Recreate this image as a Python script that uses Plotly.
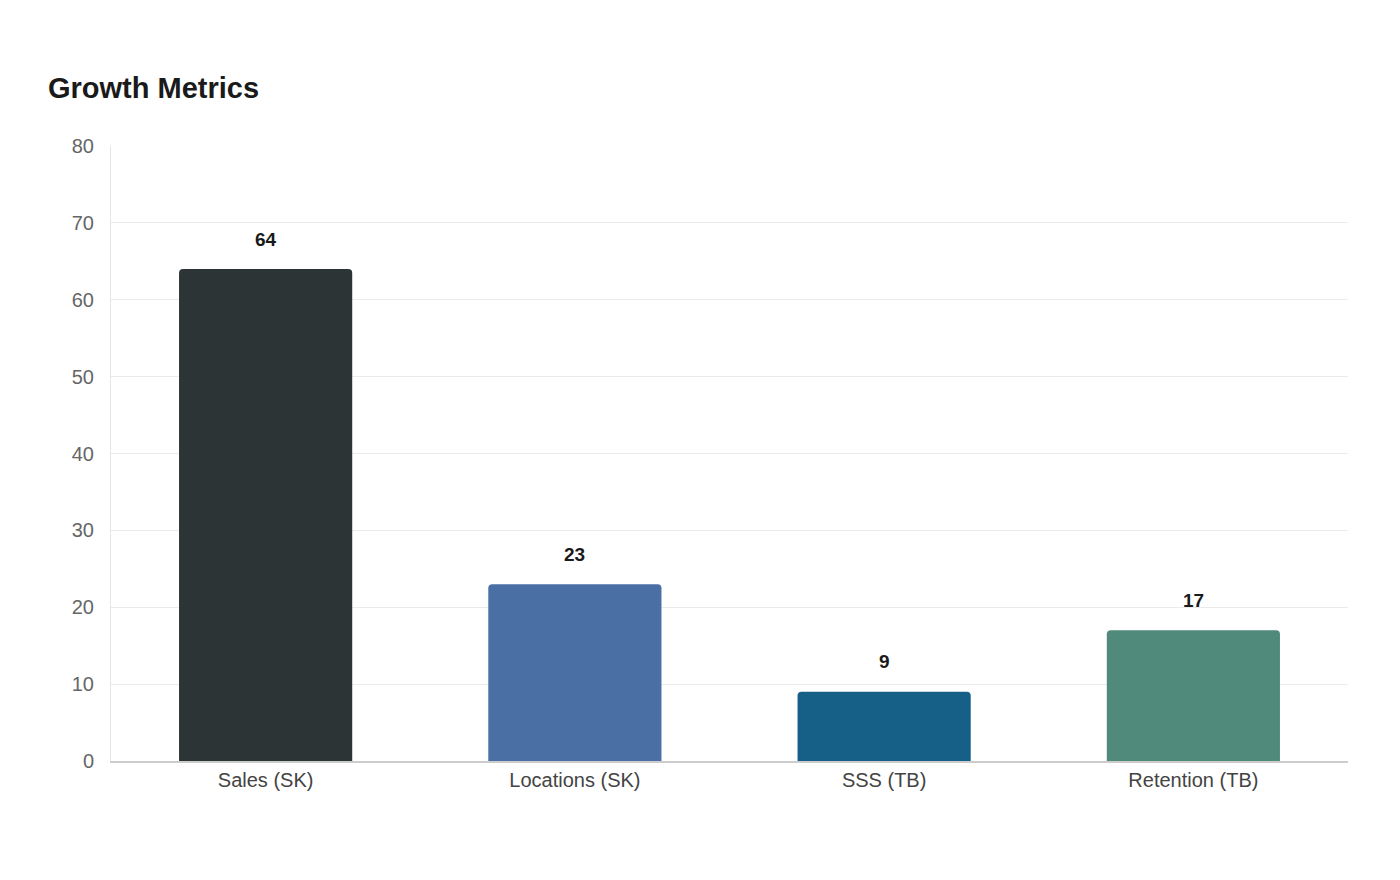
import plotly.graph_objects as go

categories = ["Sales (SK)", "Locations (SK)", "SSS (TB)", "Retention (TB)"]
values = [64, 23, 9, 17]
colors = ["#2d3436", "#4a6fa5", "#166088", "#4f8a7b"]

fig = go.Figure(go.Bar(x=categories, y=values, marker_color=colors, width=0.56,
                       marker_line_width=0, hoverinfo="skip"))
for c, v in zip(categories, values):
    fig.add_annotation(x=c, y=v, text=f"<b>{v}</b>", showarrow=False, yshift=30,
                       font=dict(size=19, color="#1a1a1a", family="Liberation Sans"))
fig.update_layout(
    width=1400, height=880, plot_bgcolor="white", paper_bgcolor="white",
    margin=dict(l=103, r=60, t=138, b=127),
    barcornerradius=4,
    font=dict(family="Liberation Sans", size=19, color="#555"),
    title=dict(text="<b>Growth Metrics</b>", x=40/1400, xanchor="left", y=1-80/880, yanchor="middle",
               font=dict(size=29, color="#1a1a1a")),
    xaxis=dict(showline=True, linecolor="#cccccc", linewidth=2, tickfont=dict(color="#444", size=20)),
    yaxis=dict(range=[0, 80], dtick=10, gridcolor="#ebebeb", showline=True, linecolor="#e6e6e6",
               zeroline=False, ticks="outside", ticklen=12, tickcolor="white", tickfont=dict(color="#666", size=20)),
)
fig.write_html("out.html")
